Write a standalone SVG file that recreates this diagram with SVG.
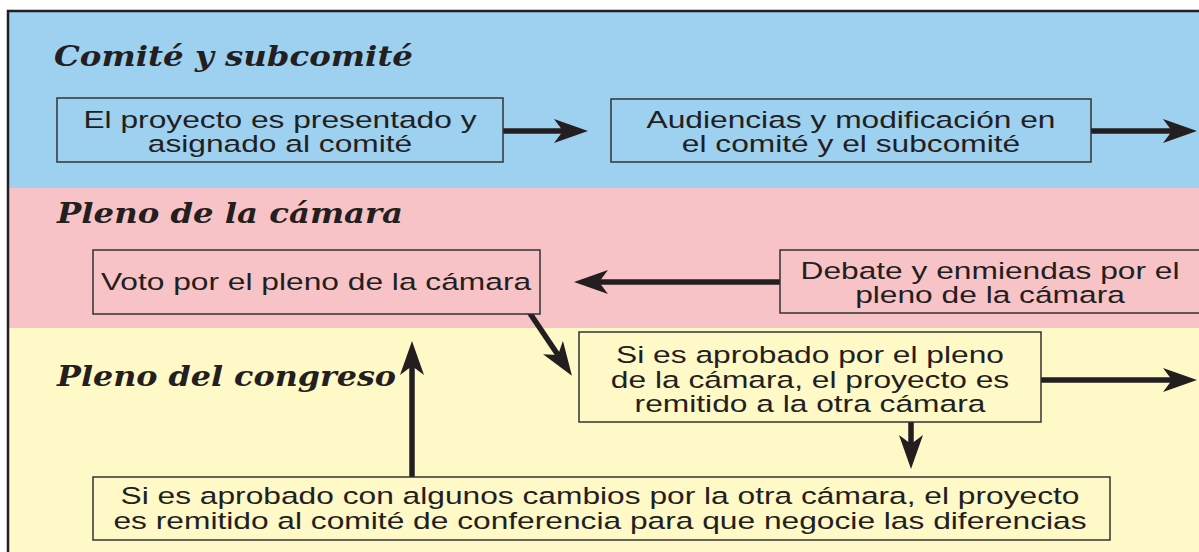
<svg xmlns="http://www.w3.org/2000/svg" width="1199" height="552" viewBox="0 0 1199 552">
<defs>
<style>
.box{stroke:#333;stroke-width:1.5}
.t{font-family:"Liberation Sans",Arial,sans-serif;font-size:23.5px;fill:#231f20;text-anchor:middle}
.h{font-family:"DejaVu Serif","Liberation Serif",serif;font-weight:bold;font-style:italic;font-size:28px;fill:#231f20}
.c{stroke:#231f20;stroke-width:5.5;fill:none}
</style>
<marker id="ah" viewBox="0 0 34 24" refX="9" refY="12" markerWidth="34" markerHeight="24" markerUnits="userSpaceOnUse" orient="auto">
<path d="M34,12 L0,0 L9,12 L0,24 Z" fill="#231f20"/>
</marker>
</defs>
<rect width="1199" height="552" fill="#ffffff"/>
<rect x="8" y="11" width="1191" height="177" fill="#9ed0f0"/>
<rect x="8" y="188" width="1191" height="140" fill="#f8c3c6"/>
<rect x="8" y="328" width="1191" height="224" fill="#fff8c7"/>
<path d="M8,552 V11 H1199" fill="none" stroke="#231f20" stroke-width="2.5"/>

<g id="titles">
<text class="h" x="54" y="66" textLength="359" lengthAdjust="spacingAndGlyphs">Comité y subcomité</text>
<text class="h" x="57" y="223" textLength="346" lengthAdjust="spacingAndGlyphs">Pleno de la cámara</text>
<text class="h" x="57" y="386" textLength="339" lengthAdjust="spacingAndGlyphs">Pleno del congreso</text>
</g>

<g id="connectors">
<line class="c" x1="503" y1="131" x2="563" y2="131" marker-end="url(#ah)"/>
<line class="c" x1="1091" y1="131" x2="1172" y2="131" marker-end="url(#ah)"/>
<line class="c" x1="780" y1="282" x2="599" y2="282" marker-end="url(#ah)"/>
<line class="c" x1="519" y1="297" x2="558" y2="355" marker-end="url(#ah)"/>
<line class="c" x1="1040" y1="380" x2="1172" y2="380" marker-end="url(#ah)"/>
<line class="c" x1="911" y1="422" x2="911" y2="444" marker-end="url(#ah)"/>
<line class="c" x1="412" y1="477" x2="412" y2="366" marker-end="url(#ah)"/>
</g>

<g id="n1">
<rect class="box" x="57" y="98" width="446" height="64" fill="#9ed0f0"/>
<text class="t" transform="translate(280,128) scale(1.35,1)">El proyecto es presentado y</text>
<text class="t" transform="translate(280,152) scale(1.35,1)">asignado al comité</text>
</g>
<g id="n2">
<rect class="box" x="611" y="99" width="480" height="63" fill="#9ed0f0"/>
<text class="t" transform="translate(851,128) scale(1.35,1)">Audiencias y modificación en</text>
<text class="t" transform="translate(851,152) scale(1.35,1)">el comité y el subcomité</text>
</g>
<g id="n3">
<rect class="box" x="780" y="250" width="430" height="63" fill="#f8c3c6"/>
<text class="t" transform="translate(990,279) scale(1.35,1)">Debate y enmiendas por el</text>
<text class="t" transform="translate(990,303) scale(1.35,1)">pleno de la cámara</text>
</g>
<g id="n4">
<rect class="box" x="93" y="250" width="447" height="64" fill="#f8c3c6"/>
<text class="t" transform="translate(316,290) scale(1.35,1)">Voto por el pleno de la cámara</text>
</g>
<g id="n5">
<rect class="box" x="579" y="332" width="462" height="90" fill="#fff8c7"/>
<text class="t" transform="translate(810,363) scale(1.35,1)">Si es aprobado por el pleno</text>
<text class="t" transform="translate(810,388) scale(1.35,1)">de la cámara, el proyecto es</text>
<text class="t" transform="translate(810,412) scale(1.35,1)">remitido a la otra cámara</text>
</g>
<g id="n6">
<rect class="box" x="93" y="477" width="1017" height="63" fill="#fff8c7"/>
<text class="t" transform="translate(600,504) scale(1.35,1)">Si es aprobado con algunos cambios por la otra cámara, el proyecto</text>
<text class="t" transform="translate(600,529) scale(1.35,1)">es remitido al comité de conferencia para que negocie las diferencias</text>
</g>
</svg>
